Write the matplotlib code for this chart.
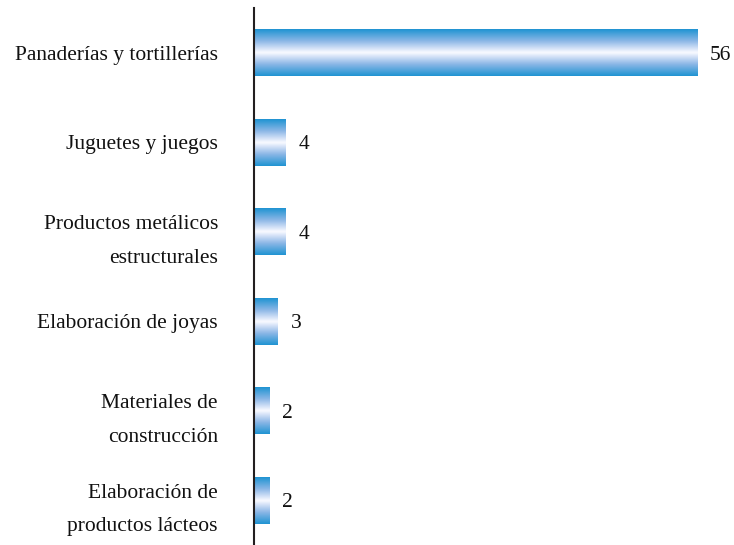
import matplotlib.pyplot as plt
import numpy as np
from matplotlib.colors import LinearSegmentedColormap

categorias = ['Panaderías y tortillerías', 'Juguetes y juegos',
              'Productos metálicos\nestructurales', 'Elaboración de joyas',
              'Materiales de\nconstrucción', 'Elaboración de\nproductos lácteos']
valores = [56, 4, 4, 3, 2, 2]

plt.rcParams['font.family'] = ['Liberation Serif', 'DejaVu Serif']

fig = plt.figure(figsize=(7.34, 5.45), dpi=100)
ax = fig.add_axes([254 / 734, 0, 0.9605 - 254 / 734, 537 / 545])

# vertical gradient: blue edges, white centre
cmap = LinearSegmentedColormap.from_list(
    'barra', [(0.0, '#1f93d2'), (0.5, '#8ab6e6'), (0.85, '#d8e4f8'), (1.0, '#f8faff')])
t = np.linspace(0, 1, 200)
grad = (1 - np.abs(2 * t - 1)).reshape(-1, 1)

pos = np.arange(len(valores))
alto = 0.52
for y, v in zip(pos, valores):
    ax.imshow(grad, cmap=cmap, aspect='auto', interpolation='bicubic',
              extent=(0, v, y + alto / 2, y - alto / 2), zorder=2)
    ax.text(v + 1.6, y + 0.03, str(v), va='center', ha='left', fontsize=15.5, color='#111111')

ax.set_xlim(0, 57)
ax.set_ylim(len(valores) - 0.5, -0.5)
ax.set_yticks(pos)
ax.set_yticklabels(categorias, fontsize=15.5, linespacing=2.05, color='#111111')
ax.tick_params(axis='y', length=0, pad=26)
ax.set_xticks([])
for s in ['top', 'right', 'bottom']:
    ax.spines[s].set_visible(False)
ax.spines['left'].set_linewidth(1.5)
ax.spines['left'].set_color('#231f20')

fig.savefig('out.png', dpi=100)
